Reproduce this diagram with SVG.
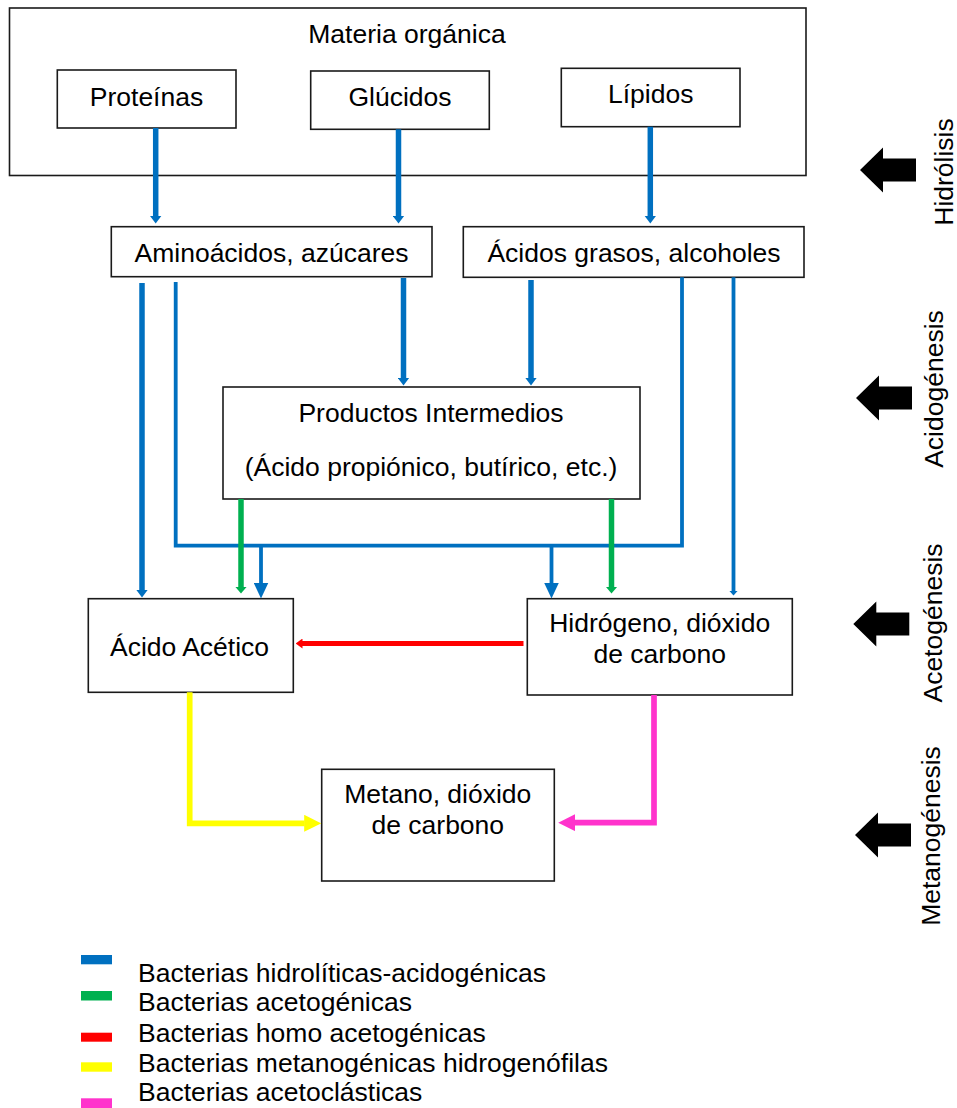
<svg xmlns="http://www.w3.org/2000/svg" width="957" height="1108" viewBox="0 0 957 1108">
<style>
  text { font-family: "Liberation Sans", Arial, sans-serif; font-size: 26.5px; fill: #000; }
  .box { fill: #fff; stroke: #1a1a1a; stroke-width: 1.6; }
  .c { text-anchor: middle; }
  .bl { fill: none; stroke: #0070C0; stroke-width: 5.5; }
  .bt { fill: none; stroke: #0070C0; stroke-width: 3.8; }
  .gr { fill: none; stroke: #00B050; stroke-width: 5.5; }
  .rd { fill: none; stroke: #FF0000; stroke-width: 5; }
  .yl { fill: none; stroke: #FFFF00; stroke-width: 5.7; }
  .pk { fill: none; stroke: #FF33CC; stroke-width: 5.7; }
  .stage { fill: #000; }
</style>
<defs>
  <marker id="hb" markerUnits="userSpaceOnUse" markerWidth="8" markerHeight="12" refX="0.5" refY="6" orient="auto" viewBox="0 0 8 12"><path d="M0,0 L8,6 L0,12 z" fill="#0070C0"/></marker>
  <marker id="hbL" markerUnits="userSpaceOnUse" markerWidth="16" markerHeight="15" refX="0.5" refY="7.5" orient="auto" viewBox="0 0 16 15"><path d="M0,0 L16,7.5 L0,15 z" fill="#0070C0"/></marker>
  <marker id="hbT" markerUnits="userSpaceOnUse" markerWidth="5" markerHeight="9" refX="0.5" refY="4.5" orient="auto" viewBox="0 0 5 9"><path d="M0,0 L5,4.5 L0,9 z" fill="#0070C0"/></marker>
  <marker id="hg" markerUnits="userSpaceOnUse" markerWidth="7" markerHeight="12" refX="0.5" refY="6" orient="auto" viewBox="0 0 7 12"><path d="M0,0 L7,6 L0,12 z" fill="#00B050"/></marker>
  <marker id="hr" markerUnits="userSpaceOnUse" markerWidth="7" markerHeight="10" refX="0.5" refY="5" orient="auto" viewBox="0 0 7 10"><path d="M0,0 L7,5 L0,10 z" fill="#FF0000"/></marker>
  <marker id="hy" markerUnits="userSpaceOnUse" markerWidth="17" markerHeight="17" refX="0.5" refY="8.5" orient="auto" viewBox="0 0 17 17"><path d="M0,0 L17,8.5 L0,17 z" fill="#FFFF00"/></marker>
  <marker id="hp" markerUnits="userSpaceOnUse" markerWidth="17" markerHeight="17" refX="0.5" refY="8.5" orient="auto" viewBox="0 0 17 17"><path d="M0,0 L17,8.5 L0,17 z" fill="#FF33CC"/></marker>
  <path id="bigArrow" d="M0,0 L23,-22.5 L23,-11.5 L56,-11.5 L56,11.5 L23,11.5 L23,22.5 z"/>
</defs>

<g id="materia-organica">
  <rect class="box" x="9.5" y="8" width="796.5" height="167.5"/>
  <text class="c" x="407" y="43">Materia orgánica</text>
</g>
<g id="proteinas">
  <rect class="box" x="57.3" y="70" width="178.7" height="58"/>
  <text class="c" x="146.5" y="105.5">Proteínas</text>
</g>
<g id="glucidos">
  <rect class="box" x="310.7" y="71" width="178.6" height="58.3"/>
  <text class="c" x="400" y="106">Glúcidos</text>
</g>
<g id="lipidos">
  <rect class="box" x="561.3" y="68.3" width="178.7" height="58.4"/>
  <text class="c" x="650.7" y="103">Lípidos</text>
</g>
<g id="aminoacidos">
  <rect class="box" x="111.3" y="226.7" width="320.7" height="50"/>
  <text class="c" x="271.5" y="261.7">Aminoácidos, azúcares</text>
</g>
<g id="acidos-grasos">
  <rect class="box" x="463.3" y="226.7" width="340.7" height="50.6"/>
  <text class="c" x="634" y="261.7">Ácidos grasos, alcoholes</text>
</g>
<g id="productos-intermedios">
  <rect class="box" x="223" y="387" width="417" height="112"/>
  <text class="c" x="431" y="422">Productos Intermedios</text>
  <text class="c" x="431" y="476">(Ácido propiónico, butírico, etc.)</text>
</g>
<g id="acido-acetico">
  <rect class="box" x="88.3" y="598.7" width="205" height="93.6"/>
  <text class="c" x="189.5" y="656">Ácido Acético</text>
</g>
<g id="hidrogeno">
  <rect class="box" x="527.3" y="598.7" width="265" height="96.3"/>
  <text class="c" x="659.7" y="631.7">Hidrógeno, dióxido</text>
  <text class="c" x="659.7" y="662.7">de carbono</text>
</g>
<g id="metano">
  <rect class="box" x="321.7" y="769.3" width="232.6" height="111.7"/>
  <text class="c" x="437.8" y="803.3">Metano, dióxido</text>
  <text class="c" x="437.8" y="834.3">de carbono</text>
</g>

<g id="connectors">
  <path class="bl" d="M155.7,128 V216" marker-end="url(#hb)"/>
  <path class="bl" d="M398.5,129.3 V216" marker-end="url(#hb)"/>
  <path class="bl" d="M650.3,126.7 V216" marker-end="url(#hb)"/>
  <path class="bl" d="M142,283 V590" marker-end="url(#hb)"/>
  <path class="bt" d="M175.7,282 V545.7 H682 V277.3"/>
  <path class="bt" d="M261,545.7 V583" marker-end="url(#hbL)"/>
  <path class="bt" d="M551.5,545.7 V583" marker-end="url(#hbL)"/>
  <path class="bl" d="M403.5,278 V378" marker-end="url(#hb)"/>
  <path class="bl" d="M531,280 V378" marker-end="url(#hb)"/>
  <path class="bt" d="M733.5,277.3 V591" marker-end="url(#hbT)"/>
  <path class="gr" d="M241,499 V587" marker-end="url(#hg)"/>
  <path class="gr" d="M611.5,499 V587" marker-end="url(#hg)"/>
  <path class="rd" d="M523.5,643.5 H302" marker-end="url(#hr)"/>
  <path class="yl" d="M189.7,692.3 V823.3 H304.7" marker-end="url(#hy)"/>
  <path class="pk" d="M654,695 V822.7 H574.7" marker-end="url(#hp)"/>
</g>

<g id="stage-hidrolisis">
  <use href="#bigArrow" class="stage" transform="translate(860,170)"/>
  <text class="c" transform="translate(953,172) rotate(-90)">Hidrólisis</text>
</g>
<g id="stage-acidogenesis">
  <use href="#bigArrow" class="stage" transform="translate(856,398)"/>
  <text class="c" transform="translate(943,389) rotate(-90)">Acidogénesis</text>
</g>
<g id="stage-acetogenesis">
  <use href="#bigArrow" class="stage" transform="translate(853.3,624)"/>
  <text class="c" transform="translate(942,623) rotate(-90)">Acetogénesis</text>
</g>
<g id="stage-metanogenesis">
  <use href="#bigArrow" class="stage" transform="translate(855,835)"/>
  <text class="c" transform="translate(940,836) rotate(-90)">Metanogénesis</text>
</g>

<g id="legend">
  <rect x="81" y="955" width="31" height="9.3" fill="#0070C0"/>
  <rect x="81" y="991" width="31" height="9.5" fill="#00B050"/>
  <rect x="81" y="1032.7" width="31" height="9" fill="#FF0000"/>
  <rect x="81" y="1062.3" width="31" height="9.4" fill="#FFFF00"/>
  <rect x="81" y="1098.3" width="31" height="9.7" fill="#FF33CC"/>
  <text x="138" y="981.7">Bacterias hidrolíticas-acidogénicas</text>
  <text x="138" y="1011">Bacterias acetogénicas</text>
  <text x="138" y="1041.7">Bacterias homo acetogénicas</text>
  <text x="138" y="1071.7">Bacterias metanogénicas hidrogenófilas</text>
  <text x="138" y="1101">Bacterias acetoclásticas</text>
</g>
</svg>
